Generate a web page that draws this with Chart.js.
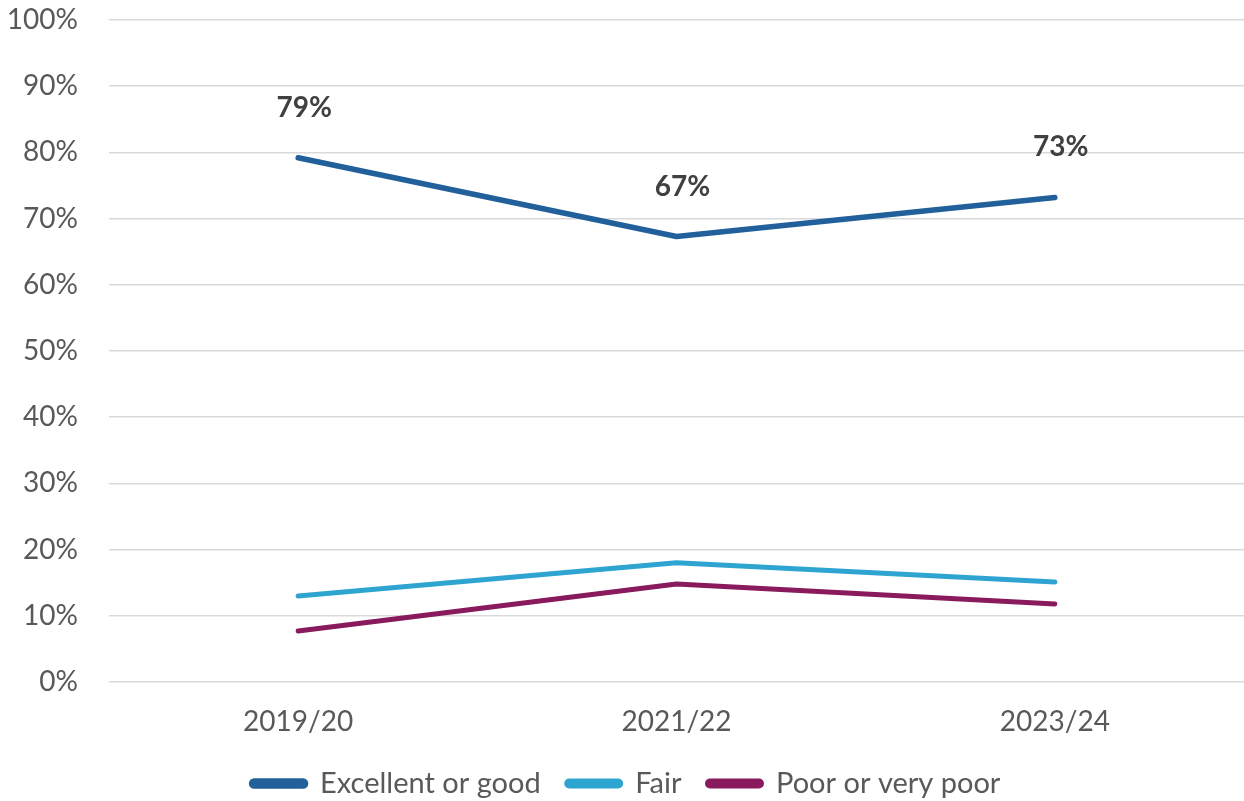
<!DOCTYPE html>
<html>
<head>
<meta charset="utf-8">
<script src="https://cdn.jsdelivr.net/npm/chart.js@4/dist/chart.umd.min.js"></script>
<style>
  html, body { margin: 0; padding: 0; background: #ffffff; }
  #wrap { width: 1244px; height: 801px; position: relative; }
</style>
</head>
<body>
<div id="wrap"><canvas id="chart"></canvas></div>
<script>
// Survey years
const years = ['2019/20', '2021/22', '2023/24'];

// Share of responses by rating (percent)
const excellentOrGood = [79.2, 67.3, 73.2];
const fair = [13.0, 18.0, 15.1];
const poorOrVeryPoor = [7.7, 14.8, 11.8];

const seriesNames = ['Excellent or good', 'Fair', 'Poor or very poor'];
const seriesColors = ['#21609A', '#2EA4D1', '#891A5D'];

const FONT = 'Lato, "Open Sans", "DejaVu Sans", sans-serif';
const TEXT = '#595959';

// Value labels above the top series
const valueLabels = {
  id: 'valueLabels',
  afterDatasetsDraw(chart) {
    const meta = chart.getDatasetMeta(0);
    const ctx = chart.ctx;
    ctx.save();
    ctx.font = 'bold 28px ' + FONT;
    ctx.fillStyle = '#404040';
    ctx.textAlign = 'center';
    ctx.textBaseline = 'middle';
    meta.data.forEach((pt, i) => {
      const v = chart.data.datasets[0].data[i];
      ctx.fillText(Math.round(v) + '%', pt.x + 6, pt.y - 50);
    });
    ctx.restore();
  }
};

new Chart(document.getElementById('chart'), {
  type: 'line',
  data: {
    labels: years,
    datasets: [excellentOrGood, fair, poorOrVeryPoor].map((d, i) => ({
      label: seriesNames[i],
      data: d,
      borderColor: seriesColors[i],
      backgroundColor: seriesColors[i],
      borderWidth: i === 0 ? 5.5 : 5,
      borderCapStyle: 'round',
      borderJoinStyle: 'round',
      borderRadius: 2.5,
      pointRadius: 0,
      pointHoverRadius: 0,
      tension: 0,
      fill: false
    }))
  },
  options: {
    responsive: true,
    maintainAspectRatio: false,
    animation: false,
    layout: { padding: { top: 20, left: 8, right: 0, bottom: -7 } },
    scales: {
      x: {
        offset: true,
        grid: { display: false, drawTicks: false },
        border: { display: false },
        ticks: { color: TEXT, font: { family: FONT, size: 28 }, padding: 23 },
        afterFit(scale) { scale.height = 61; }
      },
      y: {
        min: 0,
        max: 100,
        grid: { color: '#D9D9D9', lineWidth: 1.5, drawTicks: false },
        border: { display: false },
        ticks: {
          stepSize: 10,
          color: TEXT,
          font: { family: FONT, size: 28 },
          padding: 31,
          callback: v => v + '%'
        },
        afterFit(scale) {
          scale.width = 101;
          scale.paddingTop = 0;
          scale.paddingBottom = 0;
        }
      }
    },
    plugins: {
      legend: {
        position: 'bottom',
        labels: {
          color: TEXT,
          font: { family: FONT, size: 29 },
          boxWidth: 54,
          boxHeight: 5,
          useBorderRadius: true,
          borderRadius: 2.5,
          padding: 26
        }
      },
      tooltip: { enabled: false }
    }
  },
  plugins: [valueLabels]
});
</script>
</body>
</html>
